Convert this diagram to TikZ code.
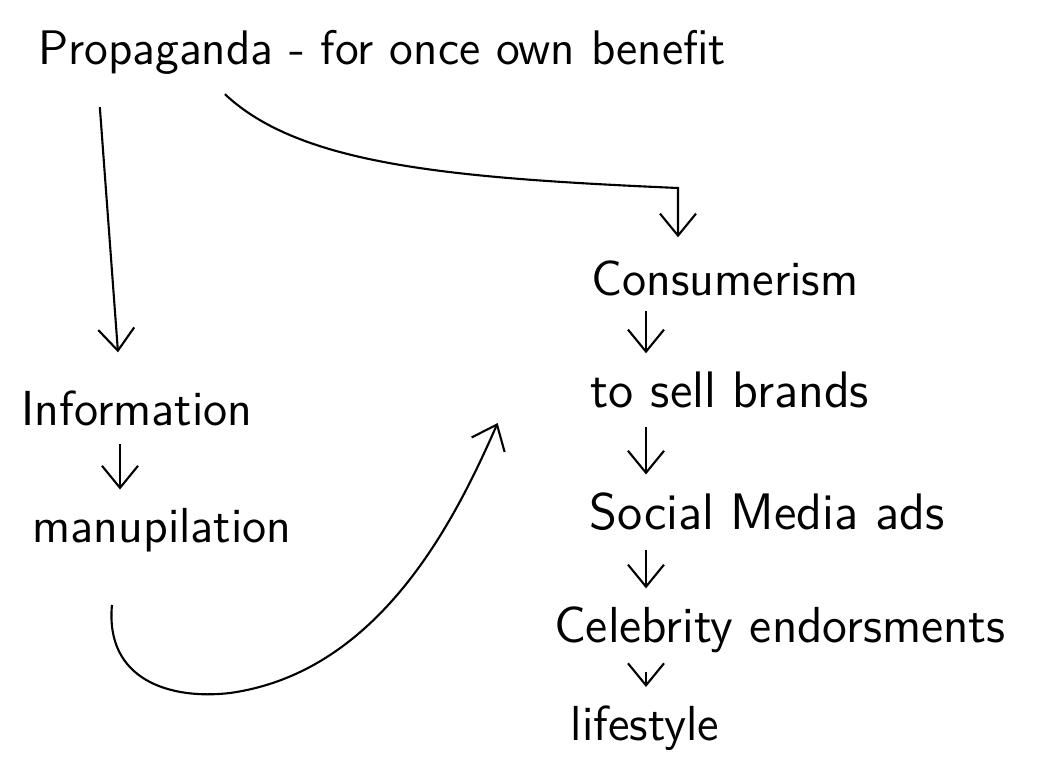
\documentclass[tikz,border=0pt]{standalone}
\usepackage{amsmath, amssymb}
\usepackage{tikz}
\usetikzlibrary{arrows.meta}
\tikzset{every picture/.style={line width=0.6pt},
  word/.style={font=\sffamily\fontsize{14}{16}\selectfont, inner sep=2pt},
  arr/.style={-{Straight Barb[length=2.2mm,width=3.6mm]}}}

\begin{document}
\begin{tikzpicture}[x=0.01cm, y=-0.01cm]
    \useasboundingbox (0,0) rectangle (1038,778);
    % Title and the two branches
    \node[word, font=\sffamily\fontsize{13.8}{16}\selectfont] (prop) at (382,52) {Propaganda - for once own benefit};
    \node[word] (info) at (137,408) {Information};
    \node[word] (manu) at (162,530) {manupilation};
    \node[word] (cons) at (725,278) {Consumerism};
    \node[word, font=\sffamily\fontsize{14.6}{16}\selectfont] (sell) at (730,390) {to sell brands};
    \node[word, font=\sffamily\fontsize{14.6}{16}\selectfont] (social) at (767,512) {Social Media ads};
    \node[word, font=\sffamily\fontsize{14.4}{16}\selectfont] (celeb) at (780,630) {Celebrity endorsments};
    \node[word] (life) at (645,728) {lifestyle};
    % Columns for the short arrows
    \coordinate (lspine) at (120,0);
    \coordinate (rspine) at (646,0);
    \coordinate (turn) at (678,188);
    \draw[arr] ([xshift=-2.82cm,yshift=-0.25cm]prop.south) -- ([xshift=-0.19cm,yshift=0.3cm]info.north);
    \draw[arr] ([xshift=-1.57cm,yshift=-0.12cm]prop.south) .. controls (300,165) and (450,178) .. (turn)
        -- ([yshift=0.15cm]turn |- cons.north);
    \draw[arr, shorten <=3pt, shorten >=3pt] (info.south -| lspine) -- (manu.north -| lspine);
    % Chain on the right
    \draw[arr, shorten <=2pt, shorten >=3pt] (cons.south -| rspine) -- (sell.north -| rspine);
    \draw[arr, shorten <=3pt, shorten >=3pt] (sell.south -| rspine) -- (social.north -| rspine);
    \draw[arr, shorten <=3pt, shorten >=3pt] (social.south -| rspine) -- (celeb.north -| rspine);
    \draw[arr, shorten <=3pt, shorten >=3pt] (celeb.south -| rspine) -- (life.north -| rspine);
    % Loop back from manupilation
    \draw[arr] ([xshift=-0.5cm,yshift=-0.45cm]manu.south) .. controls (105,680) and (170,700) .. (230,693)
        .. controls (380,672) and (455,520) .. ([xshift=-0.85cm,yshift=-0.33cm]sell.west);
\end{tikzpicture}
\end{document}
